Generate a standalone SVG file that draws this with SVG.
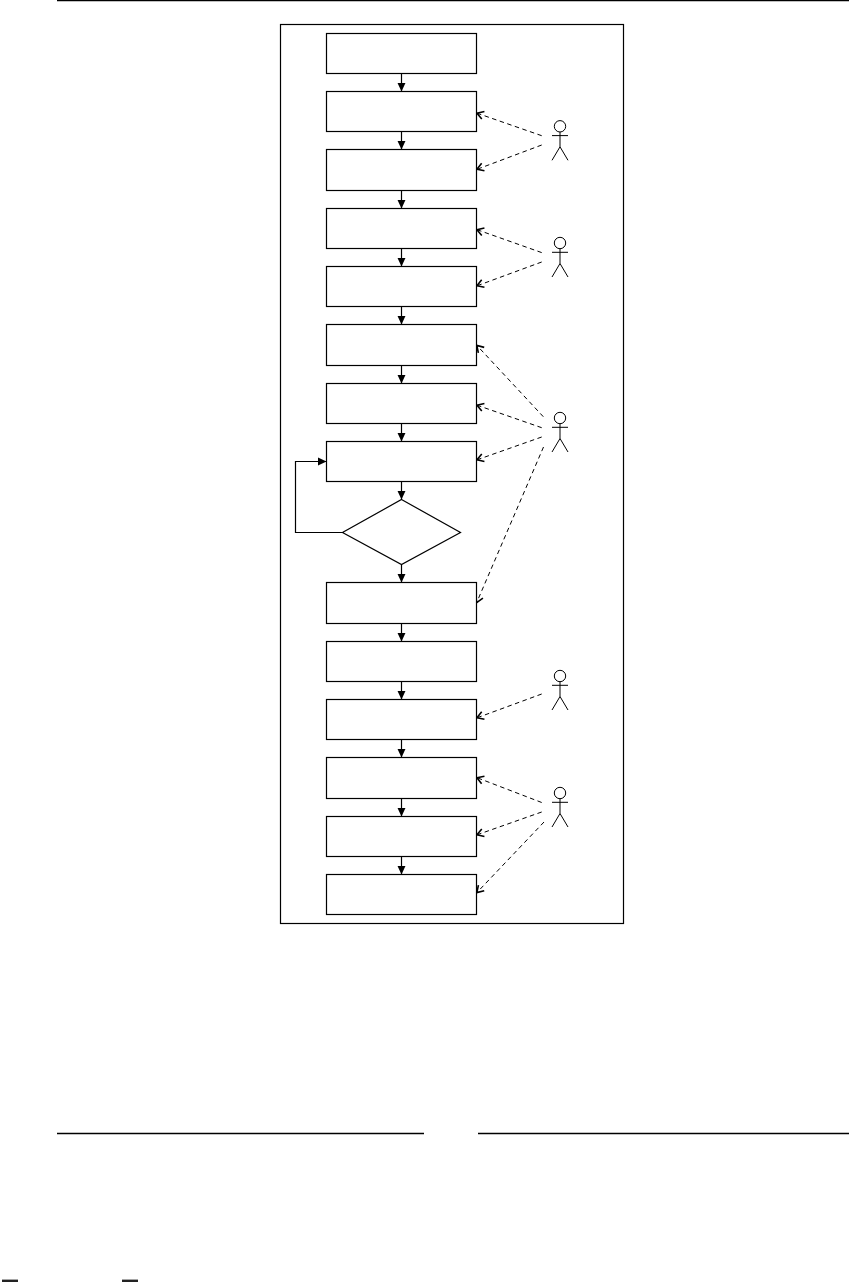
<svg xmlns="http://www.w3.org/2000/svg" width="849" height="1282" viewBox="0 0 849 1282">
<style>
.box{fill:#fff;stroke:#000;stroke-width:1.2}
.flow{fill:none;stroke:#000;stroke-width:1.2;marker-end:url(#solid)}
.dash{fill:none;stroke:#000;stroke-width:1;stroke-dasharray:4.5 3.5;marker-end:url(#open)}
.actor{fill:none;stroke:#000;stroke-width:1}
.rule{fill:none;stroke:#000;stroke-width:1.3}
</style>
<defs>
<marker id="solid" markerUnits="userSpaceOnUse" markerWidth="10" markerHeight="10" refX="9" refY="5" orient="auto"><path d="M0 .8L9 5L0 9.2Z" fill="#000"/></marker>
<marker id="open" markerUnits="userSpaceOnUse" markerWidth="10" markerHeight="11" refX="8.5" refY="5.5" orient="auto"><path d="M1.5 1.5L8 5.5L1.5 9.5" fill="none" stroke="#000" stroke-width="1.6"/></marker>
<g id="stick"><circle cx="0" cy="0" r="5.7"/><path d="M0 5.7V20.5M-8 9.3H8M0 20.5L-8 34M0 20.5L8 34"/></g>
</defs>
<rect width="849" height="1282" fill="#fff"/>
<g id="page-marks">
<path class="rule" d="M57 .5H849M57 1133.5H424M478 1133.5H849"/>
<rect x="2" y="1279.6" width="16" height="2.4" fill="#222"/>
<rect x="122" y="1279.6" width="16" height="2.4" fill="#222"/>
</g>
<g id="frame"><rect class="box" x="280.5" y="24.5" width="343" height="899"/></g>
<g id="connectors">
<path class="flow" d="M401.5 73.5V91.5"/>
<path class="flow" d="M401.5 131.5V149.5"/>
<path class="flow" d="M401.5 190.5V208.5"/>
<path class="flow" d="M401.5 248.5V266.5"/>
<path class="flow" d="M401.5 306.5V324.5"/>
<path class="flow" d="M401.5 365.5V383.5"/>
<path class="flow" d="M401.5 423.5V441.5"/>
<path class="flow" d="M401.5 481.5V499.5"/>
<path class="flow" d="M401.5 564.5V582.5"/>
<path class="flow" d="M401.5 623.5V641.5"/>
<path class="flow" d="M401.5 681.5V699.5"/>
<path class="flow" d="M401.5 739.5V757.5"/>
<path class="flow" d="M401.5 798.5V816.5"/>
<path class="flow" d="M401.5 856.5V874.5"/>
<path class="flow" d="M342.5 532.5H295.5V461.5H326.5"/>
<path class="dash" d="M541.7 135.7L476.5 113"/>
<path class="dash" d="M541.7 145L476.5 169.5"/>
<path class="dash" d="M541.7 252.6L476.5 229.5"/>
<path class="dash" d="M541.7 262L476.5 286"/>
<path class="dash" d="M543.3 416.7L476.5 345"/>
<path class="dash" d="M541.7 427.7L476.5 405"/>
<path class="dash" d="M541.7 437L476.5 460"/>
<path class="dash" d="M543.5 447L476.5 603"/>
<path class="dash" d="M541.7 694L476.5 718"/>
<path class="dash" d="M541.7 802.5L476.5 777.5"/>
<path class="dash" d="M541.7 812L476.5 835"/>
<path class="dash" d="M544 822L476.5 893"/>
</g>
<g id="n1"><rect class="box" x="326.5" y="33.5" width="150" height="40"/></g>
<g id="n2"><rect class="box" x="326.5" y="91.5" width="150" height="40"/></g>
<g id="n3"><rect class="box" x="326.5" y="149.5" width="150" height="41"/></g>
<g id="n4"><rect class="box" x="326.5" y="208.5" width="150" height="40"/></g>
<g id="n5"><rect class="box" x="326.5" y="266.5" width="150" height="40"/></g>
<g id="n6"><rect class="box" x="326.5" y="324.5" width="150" height="41"/></g>
<g id="n7"><rect class="box" x="326.5" y="383.5" width="150" height="40"/></g>
<g id="n8"><rect class="box" x="326.5" y="441.5" width="150" height="40"/></g>
<g id="n9"><path class="box" d="M401.5 499.5L460.5 532.5L401.5 564.5L342.5 532.5Z"/></g>
<g id="n10"><rect class="box" x="326.5" y="582.5" width="150" height="41"/></g>
<g id="n11"><rect class="box" x="326.5" y="641.5" width="150" height="40"/></g>
<g id="n12"><rect class="box" x="326.5" y="699.5" width="150" height="40"/></g>
<g id="n13"><rect class="box" x="326.5" y="757.5" width="150" height="41"/></g>
<g id="n14"><rect class="box" x="326.5" y="816.5" width="150" height="40"/></g>
<g id="n15"><rect class="box" x="326.5" y="874.5" width="150" height="40"/></g>
<g id="actor1" class="actor"><use href="#stick" x="560" y="126.3"/></g>
<g id="actor2" class="actor"><use href="#stick" x="560" y="243"/></g>
<g id="actor3" class="actor"><use href="#stick" x="560" y="418"/></g>
<g id="actor4" class="actor"><use href="#stick" x="560" y="676"/></g>
<g id="actor5" class="actor"><use href="#stick" x="560" y="793"/></g>
</svg>
